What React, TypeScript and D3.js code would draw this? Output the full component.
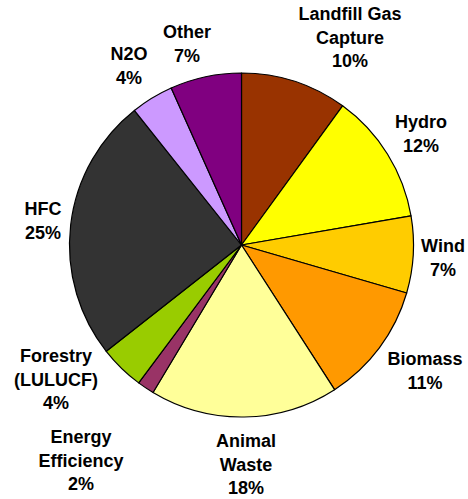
import React, { useEffect, useRef } from "react";
import * as d3 from "d3";

// slice data, clockwise from 12 o'clock
const categories = [
  "Landfill Gas Capture",
  "Hydro",
  "Wind",
  "Biomass",
  "Animal Waste",
  "Energy Efficiency",
  "Forestry (LULUCF)",
  "HFC",
  "N2O",
  "Other",
];
const shares = [10.0, 12.3, 7.2, 11.4, 17.7, 1.6, 4.2, 24.9, 4.0, 6.7];
const colors = [
  "#993300",
  "#FFFF00",
  "#FFCC00",
  "#FF9900",
  "#FFFF99",
  "#993366",
  "#99CC00",
  "#333333",
  "#CC99FF",
  "#800080",
];
// how each label is broken into lines
const labelLines = [
  ["Landfill Gas", "Capture"],
  ["Hydro"],
  ["Wind"],
  ["Biomass"],
  ["Animal", "Waste"],
  ["Energy", "Efficiency"],
  ["Forestry", "(LULUCF)"],
  ["HFC"],
  ["N2O"],
  ["Other"],
];
// label anchor (center x, first baseline y)
const labelPos = [
  [350, 20],
  [421, 128],
  [443, 252],
  [425, 365],
  [246, 447],
  [81, 443],
  [56, 362],
  [43, 215],
  [129, 60],
  [187, 38],
];

const App = () => {
  const svgRef = useRef<SVGSVGElement | null>(null);
  const w = 468;
  const h = 499;
  const cx = 241.5;
  const cy = 245;
  const r = 172;
  const lineH = 23.5;

  useEffect(() => {
    const svg = d3.select(svgRef.current);
    svg.selectAll("*").remove();

    const total = d3.sum(shares);
    const pie = d3
      .pie<number>()
      .sort(null)
      .value((d) => d)
      .startAngle(0)
      .endAngle(2 * Math.PI);
    const arcs = pie(shares);
    const arc = d3.arc<d3.PieArcDatum<number>>().innerRadius(0).outerRadius(r);

    const g = svg.append("g").attr("transform", `translate(${cx},${cy})`);
    g.selectAll("path")
      .data(arcs)
      .enter()
      .append("path")
      .attr("d", arc)
      .attr("fill", (_, i) => colors[i])
      .attr("stroke", "#000")
      .attr("stroke-width", 1.2)
      .attr("stroke-linejoin", "round");

    const labels = svg
      .append("g")
      .attr("font-family", "'Liberation Sans', Arial, sans-serif")
      .attr("font-weight", "bold")
      .attr("font-size", 18)
      .attr("fill", "#000")
      .attr("text-anchor", "middle");

    categories.forEach((_, i) => {
      const pct = Math.round((shares[i] / total) * 100) + "%";
      const lines = [...labelLines[i], pct];
      const t = labels.append("text");
      lines.forEach((txt, j) => {
        t.append("tspan")
          .attr("x", labelPos[i][0])
          .attr("y", labelPos[i][1] + j * lineH)
          .text(txt);
      });
    });
  }, []);

  return (
    <svg
      ref={svgRef}
      width={w}
      height={h}
      style={{ position: "absolute", left: 0, top: 0, background: "#fff" }}
    ></svg>
  );
};

export default App;
